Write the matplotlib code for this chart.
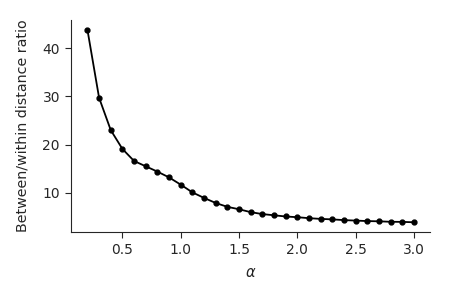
import matplotlib
matplotlib.use("Agg")
import matplotlib.pyplot as plt
import seaborn as sns

alpha = [0.2, 0.3, 0.4, 0.5, 0.6, 0.7, 0.8, 0.9, 1.0, 1.1, 1.2, 1.3, 1.4, 1.5,
         1.6, 1.7, 1.8, 1.9, 2.0, 2.1, 2.2, 2.3, 2.4, 2.5, 2.6, 2.7, 2.8, 2.9, 3.0]
ratio = [43.8, 29.7, 23.0, 19.1, 16.6, 15.5, 14.4, 13.2, 11.7, 10.1, 8.95, 7.9, 7.1, 6.6,
         6.0, 5.6, 5.35, 5.1, 4.95, 4.75, 4.6, 4.5, 4.35, 4.25, 4.15, 4.1, 4.0, 3.98, 3.9]

sns.set_style("ticks")
plt.rcParams['font.family'] = ['DejaVu Sans']

fig = plt.figure(figsize=(4.5, 3), dpi=100)
ax = fig.add_axes([0.158, 0.227, 0.798, 0.706])
ax.plot(alpha, ratio, color="black", marker="o", markersize=3.5, linewidth=1.3)
ax.set_xlabel(r"$\alpha$", fontsize=10.5, labelpad=6)
ax.set_ylabel("Between/within distance ratio", fontsize=10.3, labelpad=9)
ax.set_xticks([0.5, 1.0, 1.5, 2.0, 2.5, 3.0])
ax.set_yticks([10, 20, 30, 40])
ax.tick_params(labelsize=10, length=4.5)
sns.despine(ax=ax)
fig.savefig("out.png", dpi=100)
